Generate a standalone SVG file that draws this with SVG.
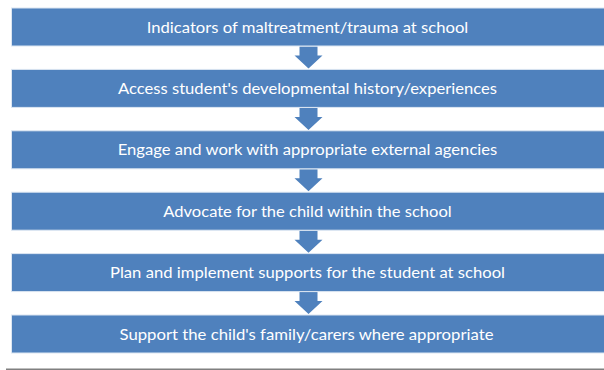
<svg xmlns="http://www.w3.org/2000/svg" width="604" height="370" viewBox="0 0 604 370">
<style>
.box{fill:#4F81BD;stroke:#DCE6F2;stroke-width:1}
.lbl{fill:#FFFFFF;font-family:Lato,"Open Sans","Liberation Sans",sans-serif;font-size:16px;text-anchor:middle}
.arr{fill:#4F81BD}
</style>
<defs>
<polygon id="dn" points="-9,0 9,0 9,9 14,9 0,22 -14,9 -9,9"/>
</defs>
<rect x="0" y="0" width="604" height="370" fill="#FFFFFF"/>
<g id="connectors">
<use href="#dn" class="arr" x="308.5" y="46.5"/>
<use href="#dn" class="arr" x="308.5" y="107.9"/>
<use href="#dn" class="arr" x="308.5" y="169.3"/>
<use href="#dn" class="arr" x="308.5" y="230.7"/>
<use href="#dn" class="arr" x="308.5" y="292.1"/>
</g>
<g id="n1"><rect class="box" x="11.5" y="8" width="593" height="38"/><text class="lbl" x="307.5" y="32.5" textLength="321.6" lengthAdjust="spacingAndGlyphs">Indicators of maltreatment/trauma at school</text></g>
<g id="n2"><rect class="box" x="11.5" y="69.4" width="593" height="38"/><text class="lbl" x="307.5" y="93.9" textLength="379" lengthAdjust="spacingAndGlyphs">Access student's developmental history/experiences</text></g>
<g id="n3"><rect class="box" x="11.5" y="130.8" width="593" height="38"/><text class="lbl" x="307.5" y="155.3" textLength="379.6" lengthAdjust="spacingAndGlyphs">Engage and work with appropriate external agencies</text></g>
<g id="n4"><rect class="box" x="11.5" y="192.2" width="593" height="38"/><text class="lbl" x="307.5" y="216.7" textLength="288.4" lengthAdjust="spacingAndGlyphs">Advocate for the child within the school</text></g>
<g id="n5"><rect class="box" x="11.5" y="253.6" width="593" height="38"/><text class="lbl" x="307.5" y="278.1" textLength="395" lengthAdjust="spacingAndGlyphs">Plan and implement supports for the student at school</text></g>
<g id="n6"><rect class="box" x="11.5" y="315" width="593" height="38"/><text class="lbl" x="306.5" y="339.5" textLength="374" lengthAdjust="spacingAndGlyphs">Support the child's family/carers where appropriate</text></g>
<line x1="6" y1="369.2" x2="604" y2="369.2" stroke="#808080" stroke-width="1.6"/>
</svg>
